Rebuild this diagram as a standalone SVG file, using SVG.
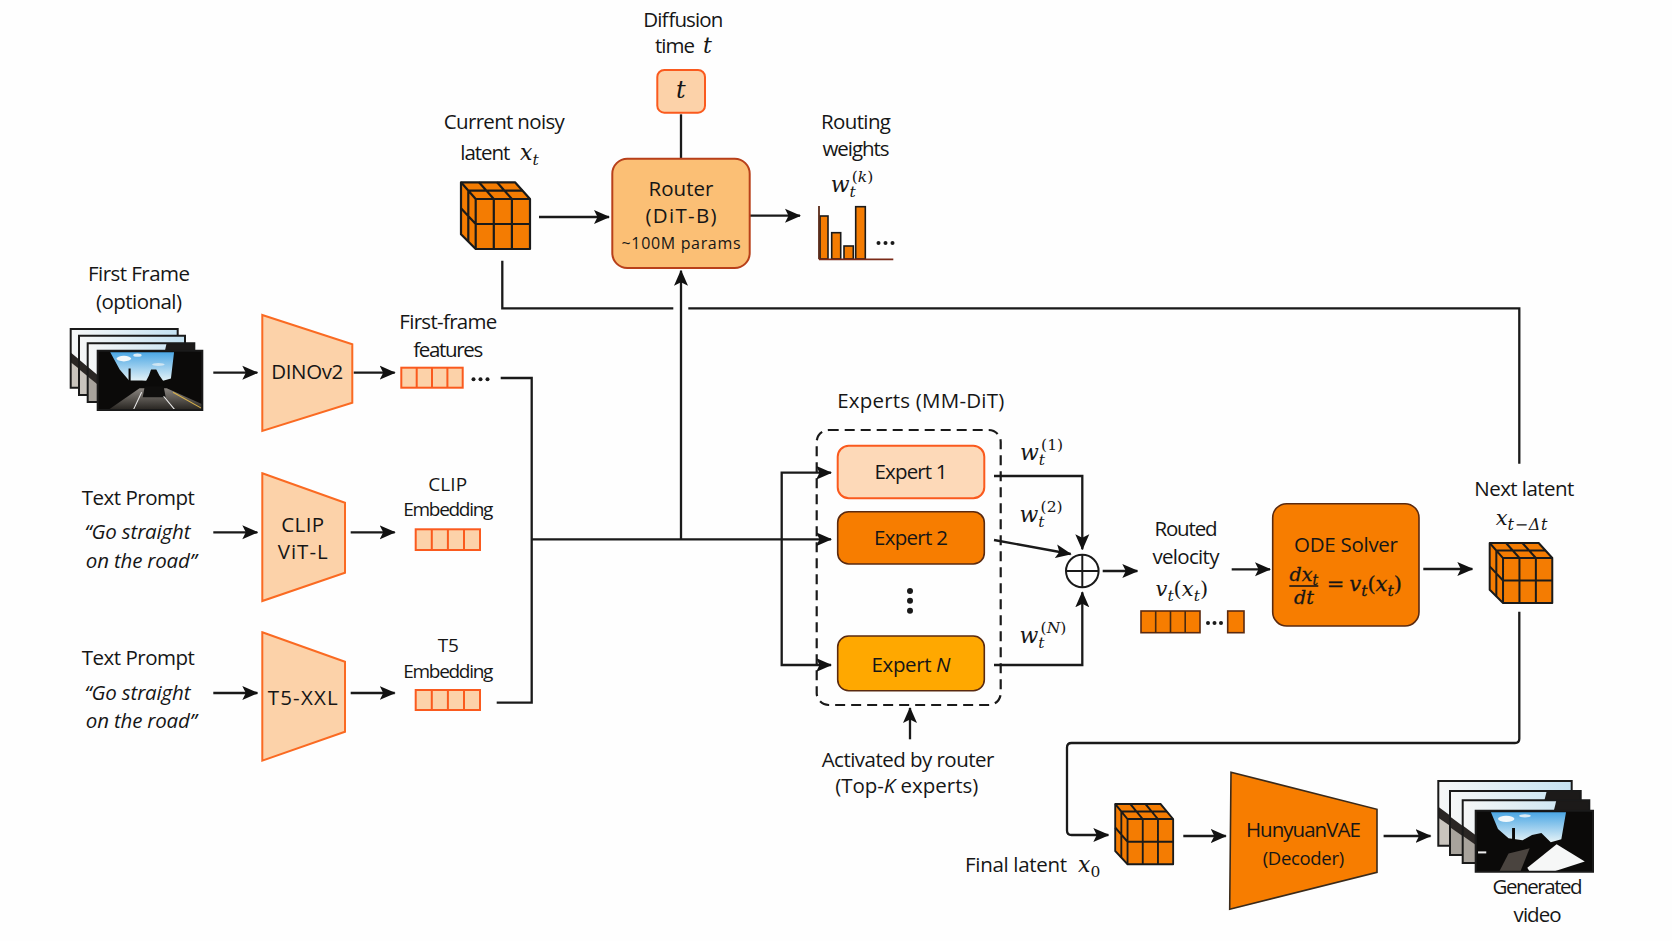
<svg xmlns="http://www.w3.org/2000/svg" width="1672" height="941" viewBox="0 0 1672 941">
<style>
text{font-family:"Open Sans","Liberation Sans",sans-serif;fill:#161616;text-anchor:middle;font-size:20.5px}
.s{font-size:19px}
.it{font-style:italic}
.m{font-family:"DejaVu Serif",serif;font-style:italic;font-size:22px;text-anchor:start}
.m tspan{font-size:15.5px}
.m tspan.b{font-size:21px;font-style:normal}
.m tspan.i{font-size:21px}
.m tspan.u{font-style:normal}
.eq{stroke:#161616;stroke-width:.3}
.l{fill:none;stroke:#1a1a1a;stroke-width:2.3}
.a{marker-end:url(#ah)}
.lt{fill:#fcd2a9;stroke:#fa6a22;stroke-width:2}
.cell{fill:#fcd2a9;stroke:#fa5a1e;stroke-width:2}
.dk{fill:#f77d00;stroke:#5a2a10;stroke-width:1.6}
.cf{fill:#f47c02;stroke:#1a1a1a;stroke-width:2.2;stroke-linejoin:round}
.cg{fill:none;stroke:#1a1a1a;stroke-width:2.2}
.fr{fill:none;stroke:#1a1a1a;stroke-width:2;vector-effect:non-scaling-stroke}
.dot{fill:#1a1a1a}
</style>
<defs>
<marker id="ah" markerUnits="userSpaceOnUse" markerWidth="16" markerHeight="15" viewBox="0 0 16 15" refX="15" refY="7.5" orient="auto">
<path d="M0 0.5L16 7.5L0 14.5L3.5 7.5Z" fill="#111"/>
</marker>
<linearGradient id="sky" x1="0" y1="0" x2="0" y2="1"><stop offset="0" stop-color="#4aa6e4"/><stop offset="1" stop-color="#e6f3f7"/></linearGradient>
<linearGradient id="road" x1="0" y1="0" x2="0" y2="1"><stop offset="0" stop-color="#8a8580"/><stop offset="1" stop-color="#26231f"/></linearGradient>
<linearGradient id="wash" x1="0" y1="0" x2="1" y2="0"><stop offset="0" stop-color="#f6f7f7"/><stop offset="1" stop-color="#c4e2f2"/></linearGradient>
<g id="cube">
<path class="cf" d="M0 0H54L69 16.7V66.7H14.7L0 52Z"/>
<path class="cg" d="M14.7 16.7H69M14.7 16.7V66.7M0 0L14.7 16.7M7.3 8.3H61.5M18 0L32.8 16.7M36 0L50.9 16.7M32.8 16.7V66.7M50.9 16.7V66.7M14.7 41.7H69M7.3 8.3V59.3M0 26L14.7 41.7"/>
</g>
<g id="backlight">
<rect width="100" height="60" fill="url(#wash)"/>
<path d="M0 24L22 44L60 48L100 44V60H0Z" fill="#2a2624"/>
<path d="M0 34L14 46V60H0Z" fill="#c9c4bd"/>
<rect width="100" height="60" class="fr"/>
</g>
<g id="backdark">
<rect width="100" height="60" fill="url(#wash)"/>
<path d="M0 24L22 44L60 48L100 44V60H0Z" fill="#2a2624"/>
<path d="M0 34L14 46V60H0Z" fill="#a8a39c"/>
<path d="M74 0H100V60H62Z" fill="#1c1a19"/>
<rect width="100" height="60" class="fr"/>
</g>
<g id="scene">
<rect width="100" height="60" fill="#0b0a09"/>
<path d="M12 1.5H73L70 28L60 31L42 30L30 30L21 19Z" fill="url(#sky)"/>
<ellipse cx="25" cy="8" rx="7" ry="2.8" fill="#f2f8fb"/>
<ellipse cx="38" cy="4.5" rx="4" ry="1.6" fill="#dcecf6"/>
<ellipse cx="58" cy="14" rx="6" ry="1.5" fill="#cfe5f2"/>
<path d="M29.5 31V18H31.5V31ZM46 31L49 25L51 19H56L59 25L63 31V44H46Z" fill="#0b0a09"/>
<path d="M10 60L40 38H66L100 54V60Z" fill="url(#road)"/>
<path d="M45 36H63L65 47H43Z" fill="#0f0e0d"/>
<path d="M34 60L42 42" stroke="#eee" stroke-width="1" fill="none"/>
<path d="M74 60L63 46" stroke="#eee" stroke-width="1" fill="none"/>
<path d="M99 58L72 42" stroke="#d9b24a" stroke-width="1" fill="none"/>
</g>
<g id="scene2">
<rect width="100" height="60" fill="#0b0a09"/>
<path d="M13 1.5H77L73 28L64 31L56 22L48 24L40 29L28 27L19 18Z" fill="url(#sky)"/>
<ellipse cx="26" cy="8" rx="7" ry="3" fill="#f2f8fb"/>
<ellipse cx="42" cy="5" rx="5" ry="1.6" fill="#dcecf6"/>
<path d="M31 29V17H33.5V29Z" fill="#0b0a09"/>
<path d="M20 60L28 42L46 37L38 60Z" fill="#4a443f"/>
<path d="M44 56L69 33L93 50L66 60H46Z" fill="#f6f7f7"/>
<rect x="2" y="40" width="7" height="2" fill="#eee"/>
</g>
</defs>
<rect width="1672" height="941" fill="#fefefe"/>

<g id="connectors">
<path class="l a" d="M213.3 372.7H257.3"/>
<path class="l a" d="M353.7 372.7H394.7"/>
<path class="l a" d="M213.3 532.3H257.3"/>
<path class="l a" d="M350.7 532.3H394.7"/>
<path class="l a" d="M213.3 693H257.3"/>
<path class="l a" d="M350.7 693H394.7"/>
<path class="l" d="M500.7 378H531.7V702.7H496.7"/>
<path class="l a" d="M531.7 539.3H831"/>
<path class="l a" d="M681 539.3V270.7"/>
<path class="l" d="M681 114.3V158.7"/>
<path class="l a" d="M539 217H609"/>
<path class="l a" d="M749.7 215.7H800"/>
<path class="l" d="M502.3 260.7V308.3H673.3"/>
<path class="l" d="M688.3 308.3H1519.3V463.7"/>
<path class="l a" d="M781.7 539.3V472.7H831"/>
<path class="l a" d="M781.7 539.3V665H831"/>
<path class="l a" d="M994 476H1082.3V549.3"/>
<path class="l a" d="M994 540L1070.7 554"/>
<path class="l a" d="M994 665H1082.3V592.3"/>
<path class="l a" d="M1102.7 571H1137.3"/>
<path class="l a" d="M1231.7 569.3H1270"/>
<path class="l a" d="M1423.3 569H1472.3"/>
<path class="l a" d="M1519.3 611.7V738.7Q1519.3 743 1515 743H1071.5Q1067 743 1067 747.5V830.5Q1067 835 1071.5 835H1108.3"/>
<path class="l a" d="M1183.3 836H1225.8"/>
<path class="l a" d="M1383.6 836H1430.5"/>
<path class="l a" d="M910 739.3V708"/>
</g>

<g id="first-frame">
<text x="139" y="280.7" textLength="102">First Frame</text>
<text x="139" y="309.3" textLength="86">(optional)</text>
<use href="#backlight" transform="translate(70.7 329) scale(1.07 .98)"/>
<use href="#backlight" transform="translate(79 335.7) scale(1.06 .99)"/>
<use href="#backdark" transform="translate(87.7 343.3) scale(1.066 .98)"/>
<use href="#scene" transform="translate(97.7 350.7) scale(1.046 .99)"/>
<rect x="97.7" y="350.7" width="104.6" height="59.3" class="fr"/>
</g>
<g id="dinov2">
<path class="lt" d="M262.3 315L352.3 344.3V402.7L262.3 431Z"/>
<text x="307.3" y="379.3" textLength="72">DINOv2</text>
</g>
<g id="first-frame-features">
<text x="448.3" y="329.3" textLength="98">First-frame</text>
<text x="448.3" y="357.3" textLength="70">features</text>
<rect class="cell" x="401.3" y="367.7" width="61.4" height="20"/>
<path class="cell" d="M416.7 367.7V387.7M432 367.7V387.7M447.4 367.7V387.7"/>
<circle class="dot" cx="473.5" cy="379.3" r="2"/><circle class="dot" cx="480.5" cy="379.3" r="2"/><circle class="dot" cx="487.5" cy="379.3" r="2"/>
</g>

<g id="text-prompt-1">
<text x="138.3" y="505" textLength="113">Text Prompt</text>
<text class="it" x="137.5" y="539.3" textLength="106">“Go straight</text>
<text class="it" x="141.3" y="567.7" textLength="111">on the road”</text>
</g>
<g id="clip-vit">
<path class="lt" d="M262.3 473.3L345 502.7V572.7L262.3 601Z"/>
<text x="302.7" y="531.7" textLength="43">CLIP</text>
<text x="302.7" y="559.3" textLength="50">ViT-L</text>
</g>
<g id="clip-embedding">
<text class="s" x="447.7" y="490.7" textLength="39">CLIP</text>
<text class="s" x="448.3" y="515.7" textLength="90">Embedding</text>
<rect class="cell" x="415.7" y="529.3" width="64.3" height="20.7"/>
<path class="cell" d="M431.8 529.3V550M447.9 529.3V550M464 529.3V550"/>
</g>

<g id="text-prompt-2">
<text x="138.3" y="665" textLength="113">Text Prompt</text>
<text class="it" x="137.5" y="700" textLength="106">“Go straight</text>
<text class="it" x="141.3" y="727.7" textLength="111">on the road”</text>
</g>
<g id="t5-xxl">
<path class="lt" d="M262.3 632.3L345 661.7V731.7L262.3 760.7Z"/>
<text x="302.7" y="705" textLength="70">T5-XXL</text>
</g>
<g id="t5-embedding">
<text class="s" x="448.3" y="652.3" textLength="21">T5</text>
<text class="s" x="448.3" y="677.7" textLength="90">Embedding</text>
<rect class="cell" x="415.7" y="690" width="64.3" height="20"/>
<path class="cell" d="M431.8 690V710M447.9 690V710M464 690V710"/>
</g>

<g id="current-latent">
<text x="504.3" y="128.7" textLength="121">Current noisy</text>
<text x="485.3" y="160" textLength="50">latent</text>
<text class="m" x="520" y="160">x<tspan dy="5">t</tspan></text>
<use href="#cube" transform="translate(461 182.3)"/>
</g>
<g id="diffusion-time">
<text x="683.3" y="26.7" textLength="80">Diffusion</text>
<text x="675" y="53.3" textLength="40">time</text>
<text class="m" x="703" y="53.3">t</text>
<rect x="657.3" y="70" width="47.7" height="42.7" rx="7" fill="#fcd2a9" stroke="#fa5a1e" stroke-width="2"/>
<text class="m" x="676" y="98" style="font-size:24px">t</text>
</g>
<g id="router">
<rect x="612.3" y="158.7" width="137.4" height="109.3" rx="15" fill="#fbbf75" stroke="#b8401a" stroke-width="2"/>
<text x="681" y="196" textLength="65">Router</text>
<text x="681" y="223.3" textLength="71">(DiT-B)</text>
<text x="681" y="249" style="font-size:16px" textLength="119">~100M params</text>
</g>
<g id="routing-weights">
<text x="856" y="129.3" textLength="70">Routing</text>
<text x="856" y="156" textLength="67">weights</text>
<text class="m" x="830.7" y="191.7">w<tspan dy="5">t</tspan><tspan class="u" dx="-4" dy="-15">(</tspan><tspan>k</tspan><tspan class="u">)</tspan></text>
<g fill="#f47c02" stroke="#1a1a1a" stroke-width="1.6">
<rect x="820" y="216" width="8" height="43"/>
<rect x="831.7" y="232.7" width="9" height="26.3"/>
<rect x="844" y="246" width="9.3" height="13"/>
<rect x="855.7" y="206.7" width="9.6" height="52.3"/>
</g>
<path d="M819 206V259.3" stroke="#5a2a18" stroke-width="1.8" fill="none"/>
<path d="M819 259.3H893.3" stroke="#7a2a18" stroke-width="1.8" fill="none"/>
<circle class="dot" cx="878.5" cy="243" r="2"/><circle class="dot" cx="885.5" cy="243" r="2"/><circle class="dot" cx="892.5" cy="243" r="2"/>
</g>

<g id="experts">
<text x="920.7" y="408.3" textLength="167">Experts (MM-DiT)</text>
<rect x="816.7" y="430" width="184" height="275" rx="12" fill="none" stroke="#1a1a1a" stroke-width="2.2" stroke-dasharray="10 6"/>
</g>
<g id="expert-1">
<rect x="837.7" y="445.7" width="146.6" height="52.6" rx="11" fill="#fdd9b8" stroke="#fa5a1e" stroke-width="2"/>
<text x="911" y="479" textLength="73">Expert 1</text>
</g>
<g id="expert-2">
<rect x="837.7" y="511.7" width="146.6" height="52.3" rx="11" class="dk"/>
<text x="911" y="545" textLength="74">Expert 2</text>
</g>
<g id="expert-dots">
<circle class="dot" cx="910" cy="591" r="3"/><circle class="dot" cx="910" cy="600.7" r="3"/><circle class="dot" cx="910" cy="610.7" r="3"/>
</g>
<g id="expert-n">
<rect x="837.7" y="636" width="146.6" height="54.7" rx="11" fill="#ffa800" stroke="#5a2a10" stroke-width="1.6"/>
<text x="911" y="671.7" textLength="79">Expert <tspan class="it">N</tspan></text>
</g>
<g id="activated-label">
<text x="908" y="766.7" textLength="172.7">Activated by router</text>
<text x="906.7" y="793.3" textLength="143">(Top-<tspan class="it">K</tspan> experts)</text>
</g>
<g id="weight-labels">
<text class="m" x="1020" y="460">w<tspan dy="5">t</tspan><tspan class="u" dx="-4" dy="-15">(1)</tspan></text>
<text class="m" x="1019.5" y="521.7">w<tspan dy="5">t</tspan><tspan class="u" dx="-4" dy="-15">(2)</tspan></text>
<text class="m" x="1019.5" y="643">w<tspan dy="5">t</tspan><tspan class="u" dx="-4" dy="-15">(</tspan><tspan>N</tspan><tspan class="u">)</tspan></text>
</g>
<g id="sum">
<circle cx="1082.3" cy="571" r="16.3" fill="#fff" stroke="#1a1a1a" stroke-width="2"/>
<path d="M1066 571H1098.6M1082.3 554.7V587.3" stroke="#1a1a1a" stroke-width="2" fill="none"/>
</g>
<g id="routed-velocity">
<text x="1186" y="536" textLength="63">Routed</text>
<text x="1186" y="564" textLength="67">velocity</text>
<text class="m" x="1155.5" y="596" style="font-size:21px">v<tspan dy="5">t</tspan><tspan class="b" dy="-5">(</tspan><tspan class="i">x</tspan><tspan dy="5">t</tspan><tspan class="b" dy="-5">)</tspan></text>
<rect x="1141" y="611" width="59" height="21.7" class="dk"/>
<path d="M1155.7 611V632.7M1170.5 611V632.7M1185.2 611V632.7" stroke="#4a2a10" stroke-width="1.6" fill="none"/>
<circle class="dot" cx="1208" cy="623" r="2"/><circle class="dot" cx="1214.5" cy="623" r="2"/><circle class="dot" cx="1221" cy="623" r="2"/>
<rect x="1227.7" y="611" width="16.3" height="21.7" class="dk"/>
</g>
<g id="ode-solver">
<rect x="1272.7" y="503.7" width="146.3" height="122.3" rx="14" class="dk"/>
<text x="1346" y="551.7" textLength="104">ODE Solver</text>
<text class="m eq" x="1289.5" y="580.7" style="font-size:19px">dx<tspan dy="4" style="font-size:14px">t</tspan></text>
<path d="M1289.3 586H1318.3" stroke="#161616" stroke-width="1.6" fill="none"/>
<text class="m eq" x="1294" y="603.5" style="font-size:19px">dt</text>
<text class="m eq" x="1326.7" y="590.7" style="font-size:21px"><tspan class="b">=</tspan><tspan class="i" dx="5">v</tspan><tspan dy="5">t</tspan><tspan class="b" dy="-5">(</tspan><tspan class="i">x</tspan><tspan dy="5">t</tspan><tspan class="b" dy="-5">)</tspan></text>
</g>
<g id="next-latent">
<text x="1524.3" y="495.7" textLength="100">Next latent</text>
<text class="m" x="1495.7" y="525" style="font-size:21px">x<tspan dy="5" style="font-size:16px;letter-spacing:.7px">t−Δt</tspan></text>
<use href="#cube" transform="translate(1489.7 543) scale(.907 .9)"/>
</g>
<g id="final-latent">
<text x="1016" y="871.7" textLength="102">Final latent</text>
<text class="m" x="1078" y="871.7">x<tspan class="u" dy="5">0</tspan></text>
<use href="#cube" transform="translate(1115.2 804) scale(.84 .904)"/>
</g>
<g id="hunyuan-vae">
<path d="M1231 772.3L1377 809.3V872.3L1229.7 909.3Z" fill="#f77d00" stroke="#3a2a1a" stroke-width="1.6"/>
<text x="1303.4" y="836.7" textLength="115">HunyuanVAE</text>
<text x="1303.4" y="865" style="font-size:18.5px" textLength="81.5">(Decoder)</text>
</g>
<g id="generated-video">
<use href="#backlight" transform="translate(1438.3 781) scale(1.334 1.078)"/>
<use href="#backdark" transform="translate(1450 791) scale(1.307 1.067)"/>
<use href="#backdark" transform="translate(1462.7 800.3) scale(1.266 1.045)"/>
<use href="#scene2" transform="translate(1475.7 810.7) scale(1.173 1.017)"/>
<rect x="1475.7" y="810.7" width="117.3" height="61" class="fr"/>
<text x="1537.6" y="894" textLength="90">Generated</text>
<text x="1537.6" y="921.7" textLength="48">video</text>
</g>
</svg>
